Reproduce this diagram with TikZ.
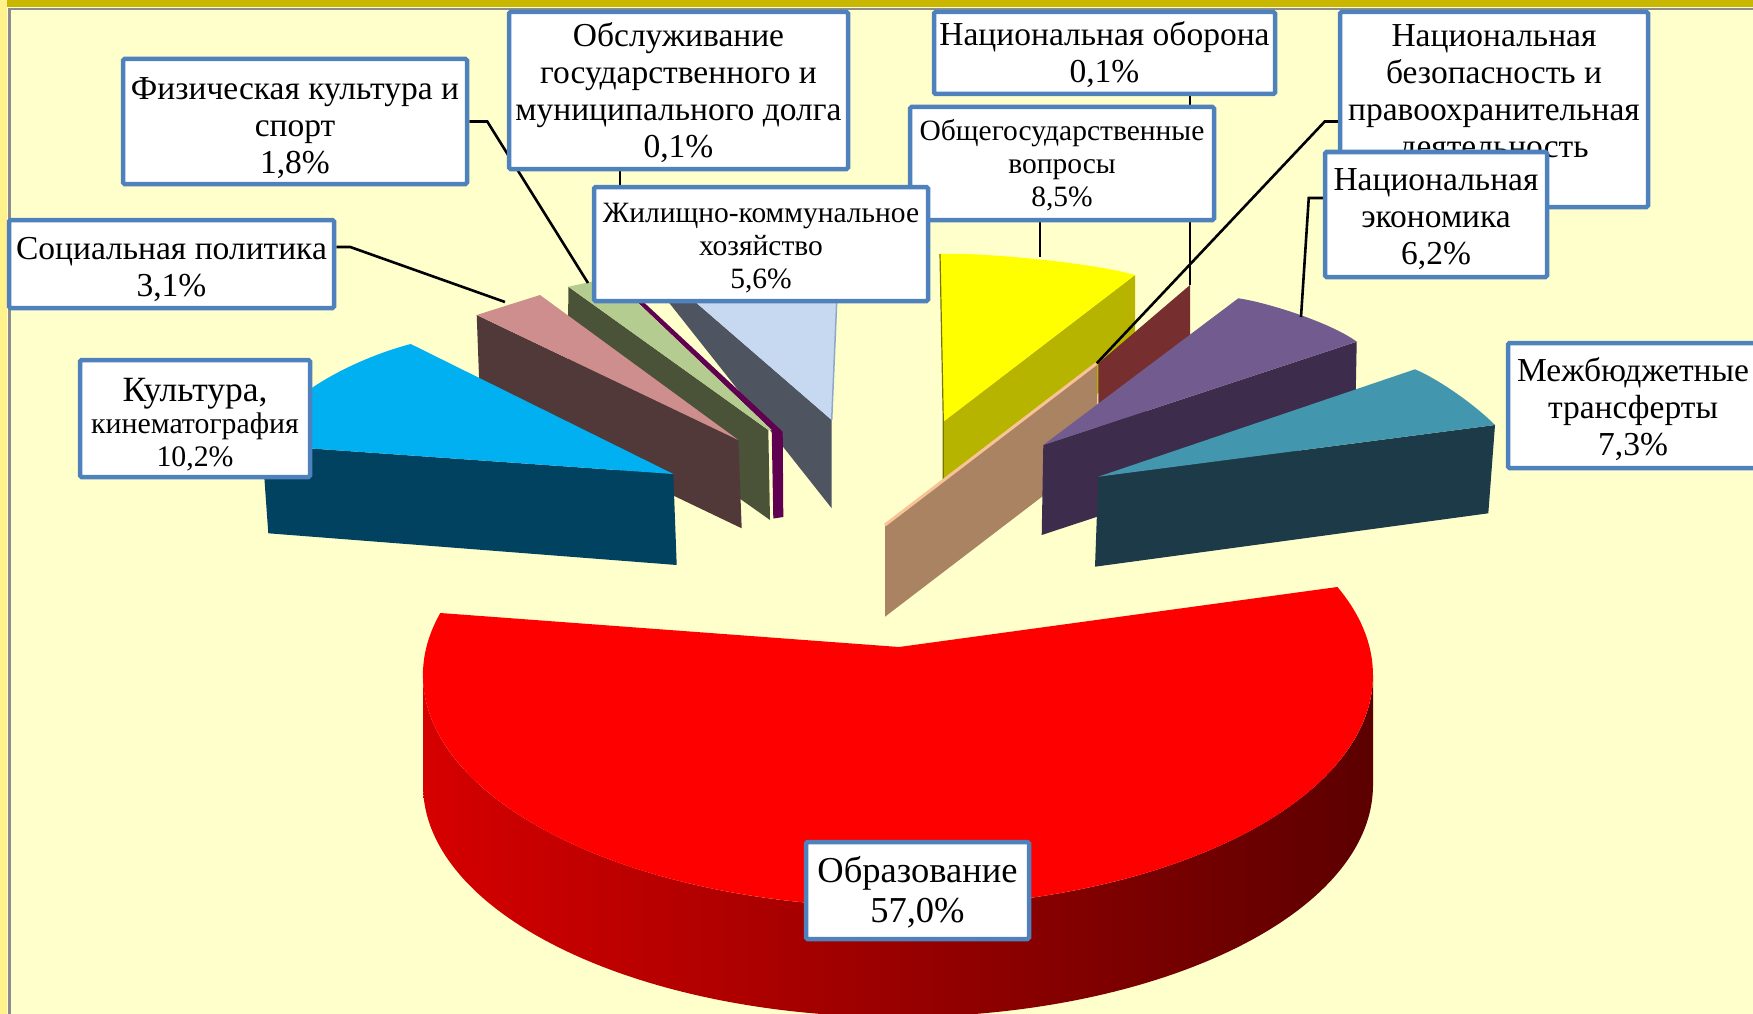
\documentclass[tikz,border=0pt]{standalone}
\usepackage{fontspec}
\setmainfont{Liberation Serif}
\definecolor{bg}{RGB}{255,255,204}
\definecolor{stripc}{RGB}{255,242,140}
\definecolor{bandc}{RGB}{200,182,0}
\definecolor{framec}{RGB}{140,140,140}
\definecolor{boxblue}{RGB}{79,129,189}
\definecolor{redtopc}{RGB}{255,0,0}
\definecolor{redL}{RGB}{214,0,0}
\definecolor{redR}{RGB}{92,0,0}
\definecolor{cultT}{RGB}{0,176,240}
\definecolor{cultS}{RGB}{0,66,95}
\definecolor{pinkT}{RGB}{207,142,142}
\definecolor{pinkS}{RGB}{82,57,57}
\definecolor{greenT}{RGB}{181,204,145}
\definecolor{greenS}{RGB}{74,82,55}
\definecolor{magc}{RGB}{96,0,80}
\definecolor{slateS}{RGB}{78,85,97}
\definecolor{slateT}{RGB}{198,217,240}
\definecolor{slateL}{RGB}{142,169,200}
\definecolor{yelT}{RGB}{255,255,0}
\definecolor{yelS}{RGB}{183,180,0}
\definecolor{yelE}{RGB}{120,118,0}
\definecolor{dredc}{RGB}{119,46,46}
\definecolor{peachS}{RGB}{170,132,98}
\definecolor{peachT}{RGB}{248,195,150}
\definecolor{purT}{RGB}{114,91,143}
\definecolor{purS}{RGB}{61,44,75}
\definecolor{tealT}{RGB}{66,151,174}
\definecolor{tealS}{RGB}{28,58,71}
\pgfdeclarelayer{back}
\pgfdeclarelayer{mid}
\pgfsetlayers{back,mid,main}
\newcommand\tsp[1]{\rule{0pt}{#1pt}}
\tikzset{
  lbl/.style={draw=boxblue, line width=4.5pt, fill=white, align=center, inner sep=0pt,
    rounded corners=1.5pt, font=\fontsize{33.5}{37}\selectfont},
  lblsmall/.style={lbl, font=\fontsize{29.5}{33}\selectfont},
  leader/.style={draw=black, line width=2.6pt},
}
\begin{document}
\begin{tikzpicture}[x=1pt,y=-1pt]
\useasboundingbox (0,0) rectangle (1753,1014);
\begin{pgfonlayer}{back}
\fill[bg] (0,0) rectangle (1753,1014);
\fill[stripc] (0,0) rectangle (7,1014);
\fill[bandc] (7,0) rectangle (1753,7.5);
\draw[framec, line width=2.5pt] (9.5,1014) -- (9.5,9) -- (1753,9);
% Education (red)
\shade[left color=redL, right color=redR] ([shift={(898,675)}]0:475 and 232)
  arc[start angle=0,end angle=180,x radius=475,y radius=232] -- ++(0,110)
  arc[start angle=180,end angle=0,x radius=475,y radius=232] -- cycle;
\fill[redtopc] (899,647) -- ([shift={(898,675)}]195.5:475 and 232)
  arc[start angle=195.5,end angle=-22.3,x radius=475,y radius=232] -- cycle;
% left cluster
\fill[slateS] (659,290) -- (681.5,290) -- (831.7,420) -- (831.7,508.3) -- cycle;
\fill[slateT] (681.5,290) -- (837.2,290) -- (831.7,420) -- cycle;
\draw[slateL, line width=1.5pt] (837.2,290) -- (831.7,420);
\fill[magc] (630,295) -- (636,295) -- (782.7,431.7) -- (783.3,517) -- (773.3,518.5) -- (771.7,430) -- cycle;
\fill[greenS] (568.3,286.7) -- (768.3,430) -- (770,520) -- (568,377) -- cycle;
\fill[greenT] (568.3,286.7) -- (600,280) -- (636.7,301.7) -- (771.7,430) -- (768.3,430) -- cycle;
\fill[pinkS] (476.7,315) -- (738.3,440) -- (741.7,528.3) -- (480,403) -- cycle;
\fill[pinkT] (476.7,315) -- (540,295) -- (738.3,440) -- cycle;
\fill[cultS] (262,445) -- (673.3,474) -- (676.7,565) -- (268.3,533.3) -- cycle;
\fill[cultT] (262,445) .. controls (275,400) and (350,360) .. (410.7,344) -- (673.3,474) -- cycle;
% right cluster
\fill[yelS] (943.3,421.7) -- (1135,275) -- (1135,365) -- (943.3,511.7) -- cycle;
\fill[yelT] (940,254) .. controls (975,252) and (1090,262) .. (1135,275) -- (943.3,421.7) -- cycle;
\draw[yelE, line width=1.2pt] (940,254) -- (943.3,421.7) -- (943.3,480);
\fill[dredc] (1098.3,363.3) -- (1190,285) -- (1190,375) -- (1098.3,450) -- cycle;
\fill[peachS] (885,525) -- (1096.7,363.3) -- (1098.3,453.7) -- (885,616.7) -- cycle;
\draw[peachT, line width=3pt] (885,525) -- (1096.7,363.3);
\fill[purS] (1043.3,445) -- (1356.7,341.7) -- (1355,432) -- (1041.7,535) -- cycle;
\fill[purT] (1043.3,445) -- (1238.3,298.3) .. controls (1265,302) and (1330,322) .. (1356.7,341.7) -- cycle;
\fill[tealS] (1098.3,476.7) -- (1495,425) -- (1488.3,513.3) -- (1095,566.7) -- cycle;
\fill[tealT] (1098.3,476.7) -- (1415,369.3) .. controls (1440,380) and (1475,405) .. (1495,425) -- cycle;
\end{pgfonlayer}
% leader end points
\coordinate (greentop) at (588,283);
\coordinate (pinktop) at (505,302);
\coordinate (dredtop) at (1190,285);
\coordinate (yeltop) at (1040,257);
\coordinate (peachtop) at (1096.7,363.3);
\coordinate (purtop) at (1301,317);
% labels
\node[lbl, minimum width=344pt, minimum height=125pt] (A) at (295,121.5) {\tsp{35.6}Физическая культура и\\спорт\\1,8\%};
\node[lbl, minimum width=339pt, minimum height=157pt] (B) at (678.5,90.5) {\tsp{28}Обслуживание\\государственного и\\муниципального долга\\0,1\%};
\node[lbl, minimum width=341pt, minimum height=82pt] (C) at (1104.5,53) {\tsp{28}Национальная оборона\\0,1\%};
\node[lbl, minimum width=308pt, minimum height=195pt] (D) at (1494,109.5) {\tsp{33.4}Национальная\\безопасность и\\правоохранительная\\деятельность\\\strut};
\node[lblsmall, minimum width=304pt, minimum height=113pt] (F) at (1062,163.5) {\tsp{25}Общегосударственные\\вопросы\\8,5\%};
\node[lblsmall, minimum width=334pt, minimum height=114pt] (G) at (761,244) {\tsp{28.5}Жилищно-коммунальное\\хозяйство\\5,6\%};
\node[lbl, minimum width=222pt, minimum height=125pt] (E) at (1436,214.5) {\tsp{31.2}Национальная\\экономика\\6,2\%};
\node[lbl, minimum width=325pt, minimum height=88pt] (H) at (171.5,264) {\tsp{33.9}Социальная политика\\3,1\%};
\node[lbl, minimum width=230pt, minimum height=117pt, font=\fontsize{29.8}{32.5}\selectfont] (I) at (195,418.5) {{\fontsize{35.5}{34}\selectfont\tsp{34.7}Культура,}\\кинематография\\10,2\%};
\node[lbl, minimum width=250pt, minimum height=125pt] (J) at (1633,405.5) {\tsp{30.3}Межбюджетные\\трансферты\\7,3\%};
\node[lbl, minimum width=223pt, minimum height=97pt, font=\fontsize{36.5}{40}\selectfont] (K) at (917.5,890.5) {\tsp{30}Образование\\57,0\%};
% leaders
\begin{pgfonlayer}{mid}
\draw[leader] (A.east) -- ++(18,0) -- (greentop);
\draw[leader] ([yshift=17pt]H.east) -- ++(14,0) -- (pinktop);
\draw[leader] ([xshift=-58.5pt]B.south) -- ([xshift=-58.5pt]B.south |- G.north);
\draw[leader] ([xshift=85.5pt]C.south) -- (dredtop);
\draw[leader] ([xshift=-22pt]F.south) -- (yeltop);
\draw[leader] ([yshift=-12pt]D.west) -- ++(-13,0) -- (peachtop);
\draw[leader] ([yshift=16.5pt]E.west) -- ++(-14,0) -- (purtop);
\end{pgfonlayer}
\end{tikzpicture}
\end{document}
